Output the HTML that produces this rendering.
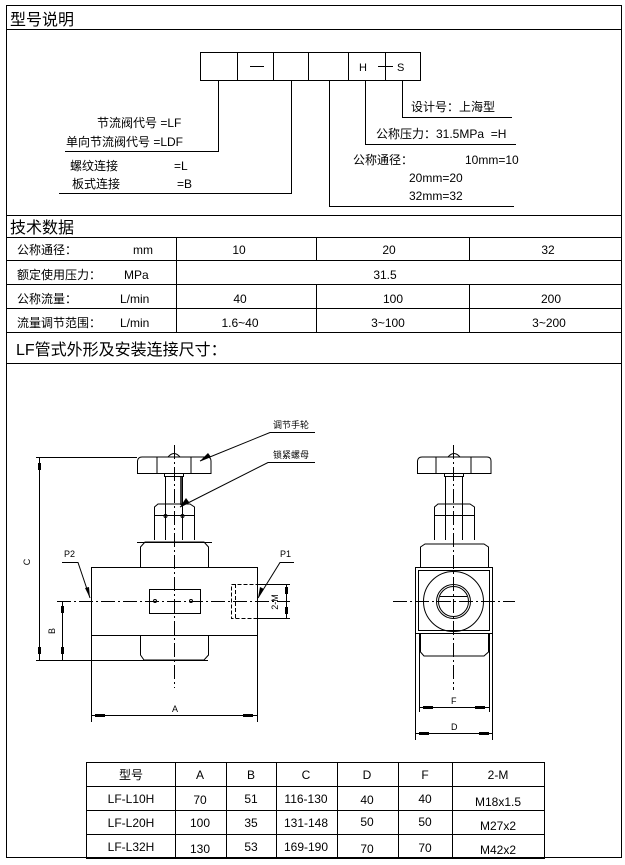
<!DOCTYPE html>
<html><head><meta charset="utf-8"><style>
html,body{margin:0;padding:0;background:#fff;}
svg{display:block;}
text{font-family:"Liberation Sans","Noto Sans CJK SC",sans-serif;fill:#000;}
</style></head><body>
<svg width="625" height="865" viewBox="0 0 625 865" xmlns="http://www.w3.org/2000/svg">
<g stroke="#000" fill="none" stroke-width="1">
<rect x="6.5" y="5.5" width="615" height="852"/>
<line x1="6" y1="29.5" x2="621" y2="29.5"/>
<line x1="6" y1="215.5" x2="621" y2="215.5"/>
<line x1="6" y1="237.5" x2="621" y2="237.5"/>
<line x1="6" y1="260.5" x2="621" y2="260.5"/>
<line x1="6" y1="284.5" x2="621" y2="284.5"/>
<line x1="6" y1="308.5" x2="621" y2="308.5"/>
<line x1="6" y1="332.5" x2="621" y2="332.5"/>
<line x1="6" y1="363.5" x2="621" y2="363.5"/>
<line x1="176.5" y1="237" x2="176.5" y2="332"/>
<line x1="316.5" y1="237" x2="316.5" y2="260"/>
<line x1="316.5" y1="284" x2="316.5" y2="332"/>
<line x1="469.5" y1="237" x2="469.5" y2="260"/>
<line x1="469.5" y1="284" x2="469.5" y2="332"/>
<!-- code boxes -->
<rect x="200.5" y="52.5" width="220" height="28"/>
<line x1="237.5" y1="52" x2="237.5" y2="80"/>
<line x1="273.5" y1="52" x2="273.5" y2="80"/>
<line x1="308.5" y1="52" x2="308.5" y2="80"/>
<line x1="348.5" y1="52" x2="348.5" y2="80"/>
<line x1="385.5" y1="52" x2="385.5" y2="80"/>
<line x1="250" y1="66.5" x2="264" y2="66.5"/>
<line x1="378" y1="66.5" x2="393" y2="66.5"/>
<polyline points="218.5,80 218.5,151.5 65,151.5"/>
<polyline points="291.5,80 291.5,193.5 59,193.5"/>
<polyline points="329.5,80 329.5,206.5 514,206.5"/>
<polyline points="365.5,80 365.5,144.5 516,144.5"/>
<polyline points="402.5,80 402.5,117.5 512,117.5"/>
<!-- bottom table -->
<rect x="86.5" y="762.5" width="458" height="96"/>
<line x1="86" y1="786.5" x2="544" y2="786.5"/>
<line x1="86" y1="810.5" x2="544" y2="810.5"/>
<line x1="86" y1="834.5" x2="544" y2="834.5"/>
<line x1="175.5" y1="762" x2="175.5" y2="858"/>
<line x1="226.5" y1="762" x2="226.5" y2="858"/>
<line x1="276.5" y1="762" x2="276.5" y2="858"/>
<line x1="337.5" y1="762" x2="337.5" y2="858"/>
<line x1="398.5" y1="762" x2="398.5" y2="858"/>
<line x1="452.5" y1="762" x2="452.5" y2="858"/>
<!-- front view -->
<path d="M137.5,473.5 L137.5,461 Q138,457 142,457 L207,457 Q211,457 211,461 L211,473.5 Z"/>
<line x1="157" y1="457" x2="157" y2="473"/>
<line x1="191" y1="457" x2="191" y2="473"/>
<path d="M168,457 Q174,450 180,457"/>
<rect x="164.5" y="473.5" width="19" height="3"/>
<line x1="165.5" y1="476" x2="165.5" y2="505"/>
<line x1="182.5" y1="476" x2="182.5" y2="505"/>
<line x1="181" y1="476" x2="181" y2="505" stroke-width="1.5"/>
<path d="M154.5,540 L154.5,507 L158,504 L190,504 L194.5,507 L194.5,540"/>
<line x1="154" y1="515.5" x2="194" y2="515.5"/>
<line x1="165.5" y1="505" x2="165.5" y2="540"/>
<line x1="182.5" y1="505" x2="182.5" y2="540"/>
<circle cx="165.5" cy="516" r="1.5"/><circle cx="182.5" cy="516" r="1.5"/>
<path d="M140.5,567 L140.5,547 L145,542 L204,542 L208.5,547 L208.5,567"/>
<line x1="137" y1="542.5" x2="212" y2="542.5"/>
<rect x="91.5" y="567.5" width="166" height="68"/>
<path d="M140.5,635 L140.5,655 L144,660 L204,660 L208.5,655 L208.5,635"/>
<rect x="149.5" y="589.5" width="51" height="24"/>
<circle cx="155" cy="601" r="1.5"/><circle cx="191" cy="601" r="1.5"/>
<rect x="231.5" y="584.5" width="26" height="34" stroke-dasharray="4,2"/>
<line x1="235.5" y1="584" x2="235.5" y2="618" stroke-dasharray="4,2"/>
<line x1="57" y1="601.5" x2="290" y2="601.5" stroke-dasharray="14,3,2,3"/>
<line x1="174.5" y1="445" x2="174.5" y2="688" stroke-dasharray="14,3,2,3"/>
<!-- dims -->
<line x1="36" y1="457.5" x2="137" y2="457.5"/>
<line x1="36" y1="660.5" x2="208" y2="660.5"/>
<line x1="39.5" y1="457" x2="39.5" y2="660"/>
<line x1="62.5" y1="601" x2="62.5" y2="660"/>
<line x1="91.5" y1="635" x2="91.5" y2="722"/>
<line x1="257.5" y1="635" x2="257.5" y2="722"/>
<line x1="91" y1="715.5" x2="257" y2="715.5"/>
<line x1="257" y1="584.5" x2="290" y2="584.5"/>
<line x1="257" y1="618.5" x2="290" y2="618.5"/>
<line x1="286.5" y1="584" x2="286.5" y2="618"/>
<polyline points="62,562.5 78,562.5 90,598"/>
<polyline points="294,562.5 280,562.5 258,598"/>
<polyline points="315,432.5 270,432.5 200,461"/>
<polyline points="315,462.5 268,462.5 180,507"/>
<!-- right view -->
<path d="M417.5,473.5 L417.5,461 Q418,457 422,457 L487,457 Q491,457 491,461 L491,473.5 Z"/>
<line x1="436" y1="457" x2="436" y2="473"/>
<line x1="471" y1="457" x2="471" y2="473"/>
<path d="M448,457 Q454,450 460,457"/>
<rect x="444.5" y="473.5" width="19" height="3"/>
<line x1="445.5" y1="476" x2="445.5" y2="505"/>
<line x1="462.5" y1="476" x2="462.5" y2="505"/>
<path d="M434.5,540 L434.5,507 L438,504 L470,504 L474.5,507 L474.5,540"/>
<line x1="434" y1="515.5" x2="474" y2="515.5"/>
<line x1="445.5" y1="505" x2="445.5" y2="540"/>
<line x1="462.5" y1="505" x2="462.5" y2="540"/>
<path d="M420.5,567 L420.5,547 L425,544 L484,544 L488.5,547 L488.5,567"/>
<rect x="415.5" y="567.5" width="77" height="66"/>
<rect x="418.5" y="570.5" width="71" height="60"/>
<path d="M420.5,634 L420.5,652 L424,656 L484,656 L488.5,652 L488.5,634"/>
<circle cx="453.5" cy="601.5" r="30"/>
<circle cx="453.5" cy="601.5" r="17"/>
<circle cx="453.5" cy="601.5" r="15"/>
<line x1="440" y1="596.5" x2="467" y2="596.5"/>
<line x1="393" y1="601.5" x2="515" y2="601.5" stroke-dasharray="14,3,2,3"/>
<line x1="453.5" y1="445" x2="453.5" y2="690" stroke-dasharray="14,3,2,3"/>
<line x1="419.5" y1="634" x2="419.5" y2="712"/>
<line x1="489.5" y1="634" x2="489.5" y2="712"/>
<line x1="415.5" y1="634" x2="415.5" y2="740"/>
<line x1="492.5" y1="634" x2="492.5" y2="740"/>
<line x1="419" y1="707.5" x2="489" y2="707.5"/>
<line x1="415" y1="733.5" x2="492" y2="733.5"/>
</g>
<g fill="#000">
<rect x="38" y="463" width="3" height="7"/><rect x="38" y="647" width="3" height="7"/>
<rect x="61" y="606" width="3" height="7"/><rect x="61" y="647" width="3" height="7"/>
<rect x="95" y="714" width="10" height="3"/><rect x="243" y="714" width="10" height="3"/>
<rect x="285" y="587" width="3" height="7"/><rect x="285" y="607" width="3" height="7"/>
<rect x="423" y="706" width="10" height="3"/><rect x="475" y="706" width="10" height="3"/>
<rect x="419" y="732" width="10" height="3"/><rect x="479" y="732" width="10" height="3"/>
<polygon points="90,598 85,588 89,587"/>
<polygon points="258,598 260,587 264,589"/>
<polygon points="200,461 208,453 211,457"/>
<polygon points="180,507 186,498 189,502"/>
</g>
<g font-size="16">
<text x="10" y="25">型号说明</text>
<text x="10" y="233">技术数据</text>
<text x="16" y="355">LF管式外形及安装连接尺寸：</text>
</g>
<g font-size="12">
<text x="359" y="71" font-size="11">H</text>
<text x="397" y="71" font-size="11">S</text>
<text x="97" y="127">节流阀代号 =LF</text>
<text x="66" y="146">单向节流阀代号 =LDF</text>
<text x="70" y="170">螺纹连接</text><text x="174" y="170">=L</text>
<text x="72" y="188">板式连接</text><text x="177" y="188">=B</text>
<text x="411" y="111">设计号：上海型</text>
<text x="376" y="138">公称压力：31.5MPa &#160;=H</text>
<text x="353" y="164">公称通径：</text><text x="465" y="164">10mm=10</text>
<text x="409" y="182">20mm=20</text>
<text x="409" y="200">32mm=32</text>
<text x="17" y="254">公称通径：</text><text x="133" y="254">mm</text>
<text x="17" y="279">额定使用压力：</text><text x="124" y="279">MPa</text>
<text x="17" y="303">公称流量：</text><text x="120" y="303">L/min</text>
<text x="17" y="327">流量调节范围：</text><text x="120" y="327">L/min</text>
</g>
<g font-size="12" text-anchor="middle">
<text x="239" y="254">10</text><text x="389" y="254">20</text><text x="548" y="254">32</text>
<text x="385" y="279">31.5</text>
<text x="240" y="303">40</text><text x="393" y="303">100</text><text x="551" y="303">200</text>
<text x="240" y="327">1.6~40</text><text x="388" y="327">3~100</text><text x="549" y="327">3~200</text>
<text x="131" y="779">型号</text><text x="200" y="779">A</text><text x="251" y="779">B</text><text x="306" y="779">C</text><text x="367" y="779">D</text><text x="425" y="779">F</text><text x="498" y="779">2-M</text>
<text x="131" y="803">LF-L10H</text><text x="200" y="804">70</text><text x="251" y="803">51</text><text x="306" y="803">116-130</text><text x="367" y="804">40</text><text x="425" y="803">40</text><text x="498" y="806">M18x1.5</text>
<text x="131" y="827">LF-L20H</text><text x="200" y="827">100</text><text x="251" y="827">35</text><text x="306" y="827">131-148</text><text x="367" y="826">50</text><text x="425" y="826">50</text><text x="498" y="830">M27x2</text>
<text x="131" y="851">LF-L32H</text><text x="200" y="853">130</text><text x="251" y="851">53</text><text x="306" y="851">169-190</text><text x="367" y="853">70</text><text x="425" y="852">70</text><text x="498" y="854">M42x2</text>
</g>
<g font-size="9">
<text x="273" y="428">调节手轮</text>
<text x="273" y="458">锁紧螺母</text>
<text x="64" y="557">P2</text>
<text x="280" y="557">P1</text>
<text x="172" y="712">A</text>
<text x="451" y="704">F</text>
<text x="451" y="730">D</text>
<text x="30" y="562" transform="rotate(-90 30 562)" text-anchor="middle">C</text>
<text x="55" y="631" transform="rotate(-90 55 631)" text-anchor="middle">B</text>
<text x="278" y="602" transform="rotate(-90 278 602)" text-anchor="middle">2-M</text>
</g>
</svg>
</body></html>
